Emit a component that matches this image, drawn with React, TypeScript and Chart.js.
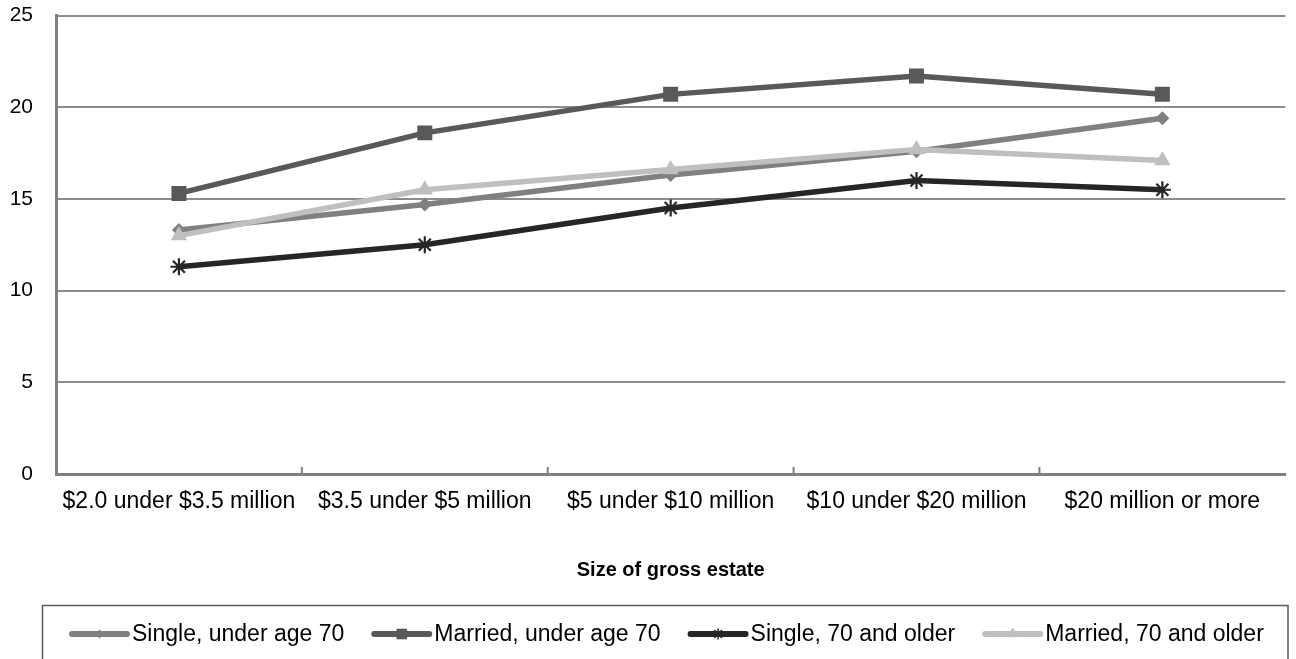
import React, { useEffect, useRef } from "react";
import { Chart, registerables } from "chart.js";

Chart.register(...registerables);

const categories = [
  "$2.0 under $3.5 million",
  "$3.5 under $5 million",
  "$5 under $10 million",
  "$10 under $20 million",
  "$20 million or more",
];

const singleUnder70 = [13.3, 14.7, 16.3, 17.6, 19.4];
const marriedUnder70 = [15.3, 18.6, 20.7, 21.7, 20.7];
const single70Older = [11.3, 12.5, 14.5, 16.0, 15.5];
const married70Older = [13.0, 15.5, 16.6, 17.7, 17.1];

const seriesNames = [
  "Single, under age 70",
  "Married, under age 70",
  "Single, 70 and older",
  "Married, 70 and older",
];

const yTicks = [0, 5, 10, 15, 20, 25];
const axisTitle = "Size of gross estate";

const FONT = "'Liberation Sans', Arial, sans-serif";

function drawMarker(ctx: CanvasRenderingContext2D, style: string, r: number, x: number, y: number) {
  ctx.beginPath();
  if (style === "rectRot") {
    ctx.moveTo(x - r, y);
    ctx.lineTo(x, y - r);
    ctx.lineTo(x + r, y);
    ctx.lineTo(x, y + r);
    ctx.closePath();
    ctx.fill();
  } else if (style === "rect") {
    const s = r * Math.SQRT1_2;
    ctx.rect(x - s, y - s, 2 * s, 2 * s);
    ctx.fill();
  } else if (style === "triangle") {
    ctx.moveTo(x, y - r);
    ctx.lineTo(x + r * 0.866, y + r * 0.5);
    ctx.lineTo(x - r * 0.866, y + r * 0.5);
    ctx.closePath();
    ctx.fill();
  } else if (style === "star") {
    const d = r * Math.SQRT1_2;
    ctx.moveTo(x, y - r);
    ctx.lineTo(x, y + r);
    ctx.moveTo(x - d, y - d);
    ctx.lineTo(x + d, y + d);
    ctx.moveTo(x - d, y + d);
    ctx.lineTo(x + d, y - d);
    ctx.stroke();
  }
}

// Small upward tick marks between categories on the category axis
const categoryTicks = {
  id: "categoryTicks",
  afterDatasetsDraw(chart: any) {
    const x = chart.scales.x;
    const { ctx, chartArea } = chart;
    ctx.save();
    ctx.strokeStyle = "#808080";
    ctx.lineWidth = 2;
    for (let i = 0; i < categories.length - 1; i++) {
      const px = (x.getPixelForValue(i) + x.getPixelForValue(i + 1)) / 2;
      ctx.beginPath();
      ctx.moveTo(px, chartArea.bottom);
      ctx.lineTo(px, chartArea.bottom - 7);
      ctx.stroke();
    }
    ctx.restore();
  },
};

// Boxed legend below the axis title
const boxedLegend = {
  id: "boxedLegend",
  afterDraw(chart: any) {
    const { ctx } = chart;
    ctx.save();
    ctx.strokeStyle = "#595959";
    ctx.lineWidth = 1.5;
    ctx.strokeRect(42.5, 605.5, 1245.5, 80);

    const cy = 634;
    let x = 69;
    const sampleLen = 61;
    ctx.font = `23px ${FONT}`;
    ctx.textBaseline = "middle";
    ctx.textAlign = "left";
    const legendRadius = [4.5, 7.5, 5.5, 6.5];
    chart.data.datasets.forEach((ds: any, i: number) => {
      ctx.strokeStyle = ds.borderColor;
      ctx.lineWidth = 6;
      ctx.lineCap = "round";
      ctx.beginPath();
      ctx.moveTo(x + 3, cy);
      ctx.lineTo(x + sampleLen - 3, cy);
      ctx.stroke();
      ctx.lineCap = "butt";
      ctx.fillStyle = ds.pointBackgroundColor;
      ctx.strokeStyle = ds.pointBorderColor;
      ctx.lineWidth = 1.5;
      drawMarker(ctx, ds.pointStyle, legendRadius[i], x + sampleLen / 2, cy);
      ctx.fillStyle = "#000";
      ctx.fillText(seriesNames[i], x + sampleLen + 2, cy + 1);
      const w = ctx.measureText(seriesNames[i]).width;
      x += sampleLen + 2 + w + 27;
    });
    ctx.restore();
  },
};

export default function App() {
  const canvasRef = useRef<HTMLCanvasElement | null>(null);

  useEffect(() => {
    const canvas = canvasRef.current;
    if (!canvas) return;

    const line = (
      label: string,
      data: number[],
      color: string,
      pointStyle: string,
      radius: number,
      order: number
    ) => ({
      label,
      data,
      borderColor: color,
      backgroundColor: color,
      pointBackgroundColor: color,
      pointBorderColor: color,
      borderWidth: 5.5,
      pointStyle,
      pointRadius: radius,
      pointBorderWidth: pointStyle === "star" ? 2.2 : 0,
      tension: 0,
      order,
    });

    const chart = new Chart(canvas, {
      type: "line",
      data: {
        labels: categories,
        datasets: [
          line(seriesNames[0], singleUnder70, "#808080", "rectRot", 7, 4),
          line(seriesNames[1], marriedUnder70, "#595959", "rect", 10.6, 3),
          line(seriesNames[2], single70Older, "#262626", "star", 8.5, 2),
          line(seriesNames[3], married70Older, "#bfbfbf", "triangle", 9.5, 1),
        ] as any,
      },
      options: {
        animation: false,
        responsive: false,
        devicePixelRatio: 1,
        layout: { padding: { top: 15.5, right: 0, bottom: 70, left: 0 } },
        plugins: {
          legend: { display: false },
          tooltip: { enabled: false },
        },
        scales: {
          x: {
            type: "category",
            offset: true,
            grid: { display: false, drawTicks: false },
            border: { display: true, color: "#808080", width: 3 },
            ticks: {
              padding: 14,
              color: "#000",
              font: { family: FONT, size: 23 },
              maxRotation: 0,
              autoSkip: false,
            },
            title: {
              display: true,
              text: axisTitle,
              color: "#000",
              font: { family: FONT, size: 20, weight: "bold" },
              padding: { top: 0, bottom: 7 },
            },
            afterFit(scale: any) {
              scale.height = 115;
            },
          },
          y: {
            min: 0,
            max: 25,
            afterBuildTicks(scale: any) {
              scale.ticks = yTicks.map((v) => ({ value: v }));
            },
            grid: {
              color: "#8c8c8c",
              lineWidth: 2,
              drawTicks: true,
              tickLength: 23,
              tickColor: "rgba(0,0,0,0)",
            },
            border: { display: true, color: "#808080", width: 3 },
            ticks: {
              padding: 0,
              color: "#000",
              font: { family: FONT, size: 21 },
            },
            afterFit(scale: any) {
              scale.width = 56;
            },
          },
        },
      } as any,
      plugins: [categoryTicks, boxedLegend],
    });

    return () => chart.destroy();
  }, []);

  return (
    <div style={{ position: "absolute", left: 0, top: 0, width: 1296, height: 659, background: "#fff" }}>
      <canvas ref={canvasRef} width={1296} height={659} style={{ display: "block" }} />
    </div>
  );
}
